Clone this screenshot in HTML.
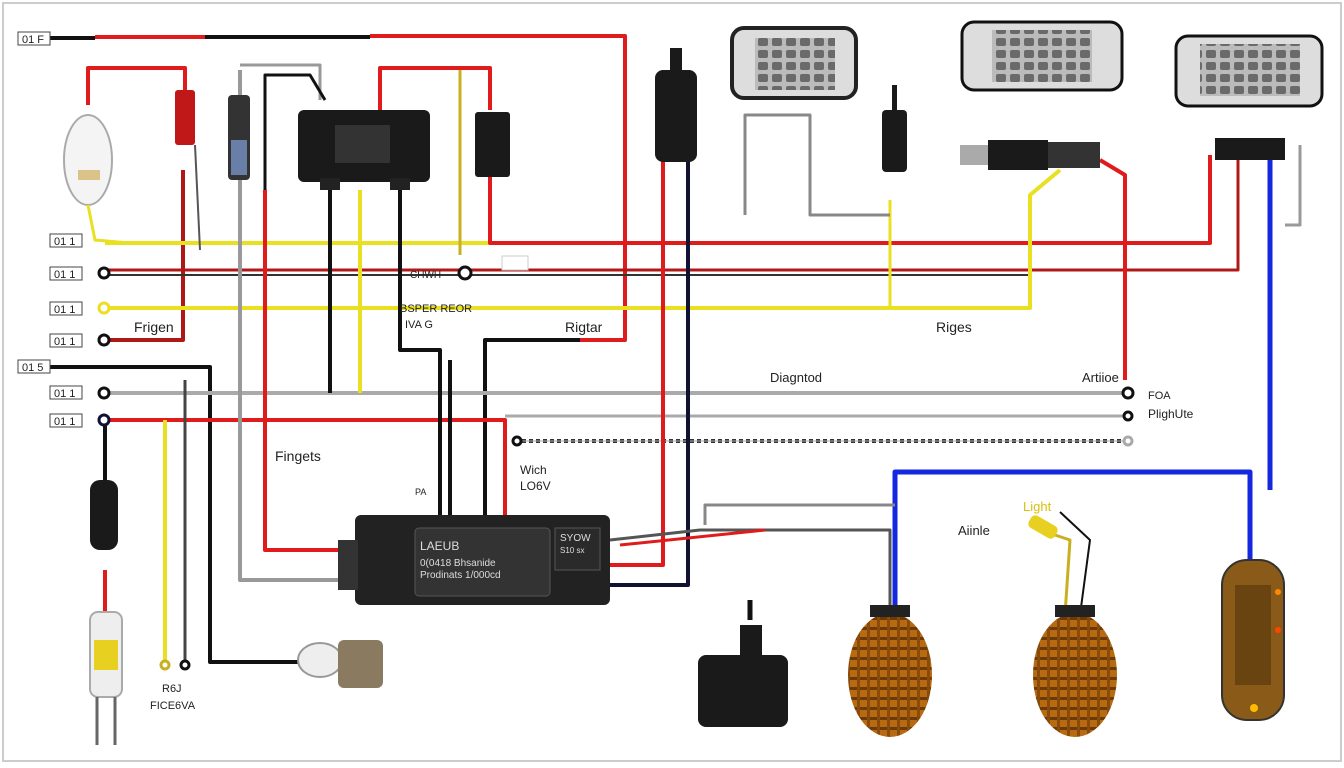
<!DOCTYPE html>
<html><head><meta charset="utf-8"><style>
html,body{margin:0;padding:0;background:#fff}
svg{display:block}
text{font-family:"Liberation Sans",sans-serif;fill:#222}
</style></head><body>
<svg width="1344" height="768" viewBox="0 0 1344 768" xmlns="http://www.w3.org/2000/svg">
<defs>
<pattern id="grid" width="14" height="12" patternUnits="userSpaceOnUse"><rect width="14" height="12" fill="#bbb"/><rect x="2" y="2" width="10" height="8" rx="2" fill="#6a6a6a"/></pattern>
<pattern id="amb" width="10" height="10" patternUnits="userSpaceOnUse"><rect width="10" height="10" fill="#b86a10"/><rect x="0" y="7" width="10" height="3" fill="#6a3a08"/><rect x="7" y="0" width="3" height="10" fill="#8a4a0a"/></pattern>
</defs>
<rect x="0" y="0" width="1344" height="768" fill="#fff"/>
<rect x="3" y="3" width="1338" height="758" fill="none" stroke="#ccc" stroke-width="2"/>
<g fill="none" stroke-width="4" stroke-linejoin="round">
<polyline points="50,38 95,38" stroke="#111"/>
<polyline points="95,37 205,37" stroke="#e01b1b"/>
<polyline points="205,37 370,37" stroke="#111"/>
<polyline points="370,36 625,36 625,340 580,340" stroke="#e01b1b"/>
<polyline points="580,340 485,340 485,520" stroke="#111"/>
<polyline points="88,105 88,68 185,68 185,95" stroke="#e01b1b"/>
<polyline points="183,170 183,340 106,340" stroke="#b01818"/>
<polyline points="105,243 490,243" stroke="#e8e020"/>
<polyline points="490,160 490,243 1210,243 1210,155" stroke="#e01b1b"/>
<polyline points="105,270 1238,270 1238,160" stroke="#b01818" stroke-width="3"/>
<polyline points="105,275 1030,275" stroke="#333" stroke-width="2"/>
<polyline points="105,308 1030,308 1030,195 1060,170" stroke="#e8e020"/>
<polyline points="890,308 890,200" stroke="#e8e020" stroke-width="3"/>
<polyline points="50,367 210,367 210,662 300,662" stroke="#111"/>
<polyline points="105,393 1125,393" stroke="#aaa"/>
<polyline points="105,420 505,420 505,515" stroke="#e01b1b"/>
<polyline points="505,416 1125,416" stroke="#aaa" stroke-width="3"/>
<polyline points="515,441 1125,441" stroke="#333" stroke-dasharray="4,3"/>
<polyline points="515,441 1125,441" stroke="#aaa" stroke-width="1"/>
<polyline points="240,70 240,580 355,580" stroke="#999"/>
<polyline points="240,65 320,65 320,100" stroke="#999" stroke-width="3"/>
<polyline points="265,190 265,550 355,550" stroke="#e01b1b"/>
<polyline points="265,190 265,75 310,75 325,100" stroke="#111" stroke-width="3"/>
<polyline points="330,190 330,393" stroke="#111"/>
<polyline points="360,190 360,393" stroke="#e8e020"/>
<polyline points="380,110 380,68 490,68 490,110" stroke="#e01b1b"/>
<polyline points="400,190 400,350 440,350 440,520" stroke="#111"/>
<polyline points="460,70 460,255" stroke="#c8b020" stroke-width="3"/>
<polyline points="450,360 450,525" stroke="#111"/>
<polyline points="663,160 663,565 610,565" stroke="#e01b1b"/>
<polyline points="688,160 688,585 610,585" stroke="#113" />
<polyline points="745,215 745,115 810,115 810,215 890,215" stroke="#888" stroke-width="3"/>
<polyline points="185,380 185,660" stroke="#444" stroke-width="3"/>
<polyline points="165,420 165,660" stroke="#e8e020"/>
<polyline points="105,420 105,480" stroke="#111"/>
<polyline points="105,570 105,615" stroke="#e01b1b"/>
<polyline points="1100,160 1125,175 1125,380" stroke="#e01b1b"/>
<polyline points="1270,160 1270,490" stroke="#1428e0" stroke-width="5"/>
<polyline points="895,612 895,472 1250,472 1250,560" stroke="#1428e0" stroke-width="5"/>
<polyline points="610,540 700,530 890,530 890,610" stroke="#555" stroke-width="3"/>
<polyline points="620,545 765,530" stroke="#e01b1b" stroke-width="3"/>
<polyline points="705,525 705,505 895,505" stroke="#888" stroke-width="3"/>
<polyline points="750,600 750,620" stroke="#111" stroke-width="5"/>
<polyline points="1300,145 1300,225 1285,225" stroke="#999" stroke-width="3"/>
<polyline points="1065,615 1070,540 1040,530" stroke="#c8b020" stroke-width="3"/>
<polyline points="1080,615 1090,540 1060,512" stroke="#111" stroke-width="2"/>
</g>
<g stroke="#111" stroke-width="3" fill="#fff">
<circle cx="104" cy="273" r="5"/><circle cx="104" cy="308" r="5" stroke="#e8e020"/><circle cx="104" cy="340" r="5"/>
<circle cx="104" cy="393" r="5"/><circle cx="104" cy="420" r="5" stroke="#113"/>
<circle cx="465" cy="273" r="6"/><circle cx="1128" cy="393" r="5"/><circle cx="1128" cy="416" r="4"/><circle cx="1128" cy="441" r="4" stroke="#aaa"/><circle cx="517" cy="441" r="4"/>
<circle cx="165" cy="665" r="4" stroke="#c8b020"/><circle cx="185" cy="665" r="4"/>
</g>
<g font-size="11" stroke="#444" stroke-width="1">
<rect x="18" y="32" width="32" height="13" fill="#fff"/><rect x="50" y="234" width="32" height="13" fill="#fff"/>
<rect x="50" y="267" width="32" height="13" fill="#fff"/><rect x="50" y="302" width="32" height="13" fill="#fff"/>
<rect x="50" y="334" width="32" height="13" fill="#fff"/><rect x="18" y="360" width="32" height="13" fill="#fff"/>
<rect x="50" y="386" width="32" height="13" fill="#fff"/><rect x="50" y="414" width="32" height="13" fill="#fff"/>
<rect x="502" y="256" width="26" height="14" fill="#fff" stroke="#ccc"/>
</g>
<g font-size="11">
<text x="22" y="43">01 F</text><text x="54" y="245">01 1</text><text x="54" y="278">01 1</text><text x="54" y="313">01 1</text>
<text x="54" y="345">01 1</text><text x="22" y="371">01 5</text><text x="54" y="397">01 1</text><text x="54" y="425">01 1</text>
</g>
<rect x="298" y="110" width="132" height="72" rx="6" fill="#1a1a1a"/>
<rect x="335" y="125" width="55" height="38" fill="#333"/>
<rect x="320" y="178" width="20" height="12" fill="#222"/><rect x="390" y="178" width="20" height="12" fill="#222"/>
<rect x="475" y="112" width="35" height="65" rx="3" fill="#1a1a1a"/>
<rect x="175" y="90" width="20" height="55" rx="3" fill="#c01818"/><line x1="195" y1="145" x2="200" y2="250" stroke="#555" stroke-width="2"/>
<rect x="228" y="95" width="22" height="85" rx="4" fill="#333"/><rect x="231" y="140" width="16" height="35" fill="#6a7fa8"/>
<ellipse cx="88" cy="160" rx="24" ry="45" fill="#f4f4f4" stroke="#aaa" stroke-width="2"/>
<rect x="78" y="170" width="22" height="10" fill="#c8a040" opacity="0.6"/>
<polyline points="88,205 95,240 130,243" fill="none" stroke="#e8e020" stroke-width="3"/>
<rect x="655" y="70" width="42" height="92" rx="8" fill="#1a1a1a"/><rect x="670" y="48" width="12" height="28" fill="#1a1a1a"/>
<rect x="882" y="110" width="25" height="62" rx="4" fill="#1a1a1a"/><rect x="892" y="85" width="5" height="30" fill="#1a1a1a"/>
<rect x="732" y="28" width="124" height="70" rx="12" fill="#ddd" stroke="#222" stroke-width="4"/>
<rect x="755" y="38" width="80" height="52" fill="url(#grid)"/>
<rect x="962" y="22" width="160" height="68" rx="12" fill="#ddd" stroke="#111" stroke-width="3"/>
<rect x="992" y="30" width="100" height="52" fill="url(#grid)"/>
<rect x="1176" y="36" width="146" height="70" rx="12" fill="#ddd" stroke="#111" stroke-width="3"/>
<rect x="1200" y="44" width="100" height="52" fill="url(#grid)"/>
<rect x="960" y="145" width="30" height="20" fill="#aaa"/><rect x="988" y="140" width="60" height="30" fill="#1a1a1a"/><rect x="1048" y="142" width="52" height="26" fill="#333"/>
<rect x="1215" y="138" width="70" height="22" fill="#1a1a1a"/>
<rect x="90" y="480" width="28" height="70" rx="10" fill="#1a1a1a"/>
<rect x="90" y="612" width="32" height="85" rx="8" fill="#eee" stroke="#aaa" stroke-width="2"/><rect x="94" y="640" width="24" height="30" fill="#e8d020"/>
<line x1="97" y1="697" x2="97" y2="745" stroke="#666" stroke-width="3"/><line x1="115" y1="697" x2="115" y2="745" stroke="#666" stroke-width="3"/>
<ellipse cx="320" cy="660" rx="22" ry="17" fill="#eee" stroke="#999" stroke-width="2"/><rect x="338" y="640" width="45" height="48" rx="6" fill="#8a7a60"/>
<rect x="355" y="515" width="255" height="90" rx="6" fill="#222"/>
<rect x="415" y="528" width="135" height="68" rx="4" fill="#333" stroke="#555"/>
<rect x="555" y="528" width="45" height="42" fill="#2a2a2a" stroke="#555"/>
<rect x="338" y="540" width="20" height="50" fill="#333"/>
<text x="420" y="550" font-size="12" fill="#ddd" style="fill:#ddd">LAEUB</text>
<text x="420" y="566" font-size="10" style="fill:#ddd">0(0418  Bhsanide</text>
<text x="420" y="578" font-size="10" style="fill:#ddd">Prodinats 1/000cd</text>
<text x="560" y="541" font-size="10" style="fill:#ddd">SYOW</text>
<text x="560" y="553" font-size="8" style="fill:#ddd">S10 sx</text>
<rect x="740" y="625" width="22" height="35" fill="#1a1a1a"/><rect x="698" y="655" width="90" height="72" rx="8" fill="#1a1a1a"/>
<ellipse cx="890" cy="675" rx="42" ry="62" fill="url(#amb)"/><rect x="870" y="605" width="40" height="12" fill="#222"/>
<ellipse cx="1075" cy="675" rx="42" ry="62" fill="url(#amb)"/><rect x="1055" y="605" width="40" height="12" fill="#222"/>
<rect x="1028" y="520" width="30" height="14" rx="5" fill="#e8d020" transform="rotate(30 1043 527)"/>
<rect x="1222" y="560" width="62" height="160" rx="25" fill="#8a5a18" stroke="#333" stroke-width="2"/>
<rect x="1235" y="585" width="36" height="100" fill="#6a4410"/>
<circle cx="1278" cy="592" r="3" fill="#f80"/><circle cx="1278" cy="630" r="3" fill="#f40"/><circle cx="1254" cy="708" r="4" fill="#fb0"/>
<g font-size="14">
<text x="134" y="332">Frigen</text><text x="565" y="332">Rigtar</text><text x="936" y="332">Riges</text>
<text x="275" y="461">Fingets</text><text x="770" y="382" font-size="13">Diagntod</text>
<text x="1082" y="382" font-size="13">Artiioe</text><text x="1148" y="399" font-size="11">FOA</text>
<text x="1148" y="418" font-size="12">PlighUte</text><text x="958" y="535" font-size="13">Aiinle</text>
<text x="1023" y="511" font-size="13" style="fill:#d8c010">Light</text>
<text x="520" y="474" font-size="12">Wich</text><text x="520" y="490" font-size="12">LO6V</text>
<text x="405" y="328" font-size="11">IVA G</text><text x="400" y="312" font-size="11">BSPER REOR</text>
<text x="410" y="278" font-size="10">CHWH</text><text x="415" y="495" font-size="9">PA</text>
<text x="162" y="692" font-size="11">R6J</text><text x="150" y="709" font-size="11">FICE6VA</text>
</g>
</svg>
</body></html>
